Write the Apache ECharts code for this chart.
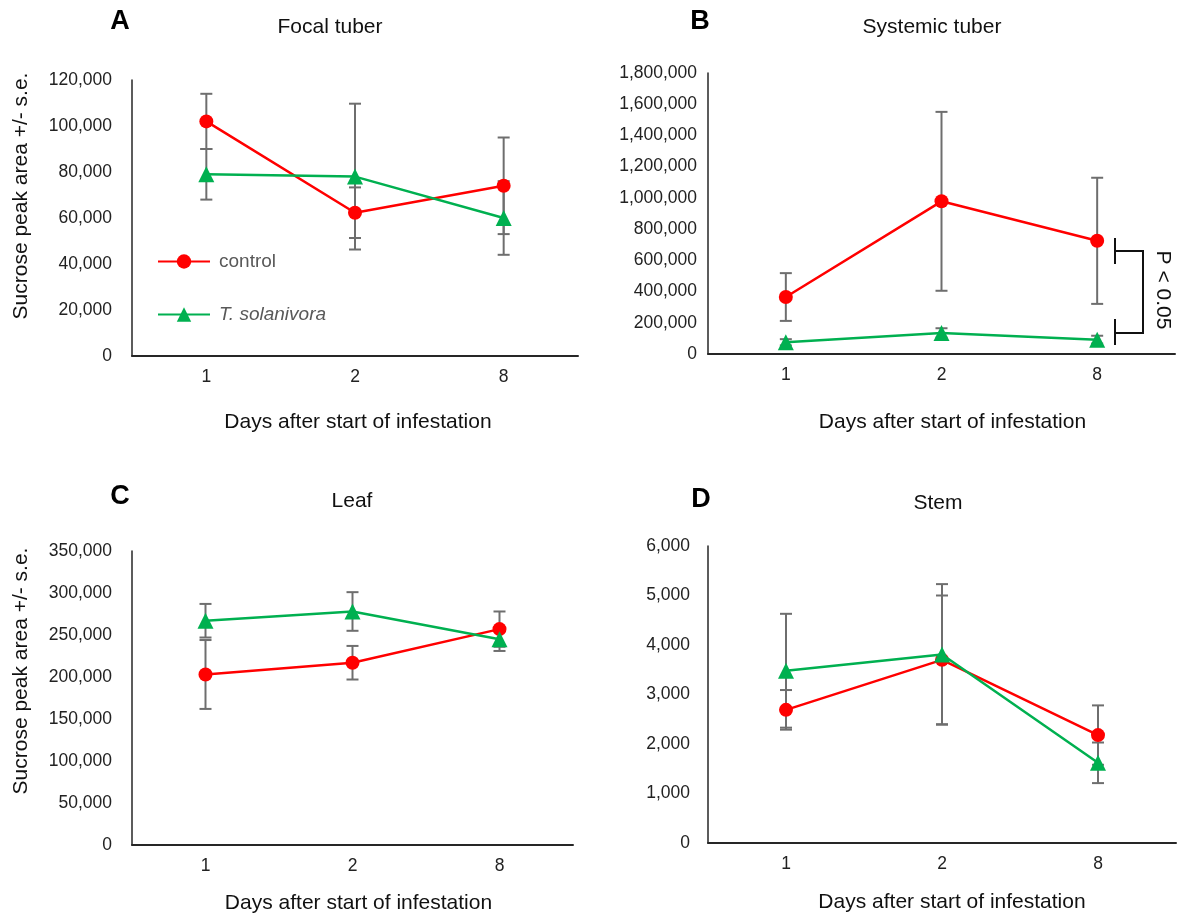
<!DOCTYPE html>
<html>
<head>
<meta charset="utf-8">
<script src="https://cdn.jsdelivr.net/npm/echarts@6/dist/echarts.min.js"></script>
<style>html,body{margin:0;padding:0;background:#fff;}#c{width:1181px;height:920px;}</style>
</head>
<body>
<div id="c"></div>
<script>
// ---- data ----
const days = ['1', '2', '8'];
const seriesNames = ['control', 'T. solanivora'];

const focalControl = [102000, 62300, 74000];
const focalControlErr = [12000, 11000, 21000];
const focalTs = [79000, 78000, 60000];
const focalTsErr = [11000, 31700, 16000];

const sysControl = [365000, 978000, 725000];
const sysControlErr = [153000, 573000, 404000];
const sysTs = [75000, 135000, 92000];
const sysTsErr = [20000, 30000, 25000];

const leafControl = [203000, 217000, 257000];
const leafControlErr = [41000, 20000, 21000];
const leafTs = [267000, 278000, 245000];
const leafTsErr = [20000, 23000, 14000];

const stemControl = [2690, 3700, 2180];
const stemControlErr = [400, 1300, 600];
const stemTs = [3480, 3810, 1620];
const stemTsErr = [1150, 1420, 410];

const yMax = [120000, 1800000, 350000, 6000];
const yStep = [20000, 200000, 50000, 1000];
const panelTitles = ['Focal tuber', 'Systemic tuber', 'Leaf', 'Stem'];
const panelLetters = ['A', 'B', 'C', 'D'];
const xTitle = 'Days after start of infestation';
const yTitle = 'Sucrose peak area +/- s.e.';
const pText = 'P < 0.05';

// ---- layout ----
const FONT = '"Liberation Sans", Arial, sans-serif';
const RED = '#FF0000', GREEN = '#00B050', ERR = '#6E6E6E', AXIS = '#262626';
const grids = [
  {left: 132, top: 80, width: 446, height: 276},
  {left: 708, top: 73, width: 467, height: 281},
  {left: 132, top: 551, width: 441, height: 294},
  {left: 708, top: 546, width: 468, height: 297}
];
const yLabelMargin = [20, 11, 20, 18];
const xNameGap = [56, 58, 48, 49];
const xNamePad = [6, 22, 12, 20];

const panels = [
  [focalControl, focalControlErr, focalTs, focalTsErr],
  [sysControl, sysControlErr, sysTs, sysTsErr],
  [leafControl, leafControlErr, leafTs, leafTsErr],
  [stemControl, stemControlErr, stemTs, stemTsErr]
];

const fmt = v => Number(v).toLocaleString('en-US');

const xAxes = grids.map((g, i) => ({
  type: 'category', gridIndex: i, data: days, boundaryGap: true,
  axisLine: {show: true, lineStyle: {color: AXIS, width: 2}},
  axisTick: {show: false},
  axisLabel: {color: '#222', fontSize: 17.5, fontFamily: FONT, margin: 12},
  name: xTitle, nameLocation: 'middle', nameGap: xNameGap[i],
  nameTextStyle: {color: '#111', fontSize: 21, fontFamily: FONT, padding: [0, 0, 0, xNamePad[i]]}
}));
const yAxes = grids.map((g, i) => ({
  type: 'value', gridIndex: i, min: 0, max: yMax[i], interval: yStep[i],
  axisLine: {show: true, lineStyle: {color: AXIS, width: 1.5}},
  axisTick: {show: false},
  splitLine: {show: false},
  axisLabel: {color: '#222', fontSize: 17.5, fontFamily: FONT, margin: yLabelMargin[i], formatter: fmt}
}));

function errSeries(i, vals, errs, id) {
  return {
    type: 'custom', id: id, xAxisIndex: i, yAxisIndex: i, z: 1,
    silent: true,
    data: vals.map((v, k) => [k, v, errs[k]]),
    encode: {x: 0, y: 1},
    renderItem: function (params, api) {
      const x = api.value(0), v = api.value(1), e = api.value(2);
      const t = api.coord([x, v + e]);
      const b = api.coord([x, v - e]);
      const st = {stroke: ERR, lineWidth: 2};
      return {type: 'group', children: [
        {type: 'line', shape: {x1: t[0], y1: t[1], x2: b[0], y2: b[1]}, style: st},
        {type: 'line', shape: {x1: t[0] - 6, y1: t[1], x2: t[0] + 6, y2: t[1]}, style: st},
        {type: 'line', shape: {x1: b[0] - 6, y1: b[1], x2: b[0] + 6, y2: b[1]}, style: st}
      ]};
    }
  };
}

const series = [];
panels.forEach((p, i) => {
  series.push(errSeries(i, p[0], p[1], 'errC' + i));
  series.push(errSeries(i, p[2], p[3], 'errT' + i));
  series.push({
    type: 'line', name: seriesNames[0], xAxisIndex: i, yAxisIndex: i, data: p[0], z: 3,
    symbol: 'circle', symbolSize: 14, showAllSymbol: true,
    lineStyle: {color: RED, width: 2.5}, itemStyle: {color: RED}, animation: false
  });
  series.push({
    type: 'line', name: seriesNames[1], xAxisIndex: i, yAxisIndex: i, data: p[2], z: 4,
    symbol: 'triangle', symbolSize: 16, showAllSymbol: true,
    lineStyle: {color: GREEN, width: 2.5}, itemStyle: {color: GREEN}, animation: false
  });
});

const titlePos = [[330, 27], [932, 27], [352, 501], [938, 503]];
const letterPos = [[120, 22], [700, 22], [120, 497], [701, 500]];
const graphics = [];
panelTitles.forEach((t, i) => graphics.push({
  type: 'text', x: titlePos[i][0], y: titlePos[i][1],
  style: {text: t, font: '21px ' + FONT, fill: '#111', textAlign: 'center', textVerticalAlign: 'middle'}
}));
panelLetters.forEach((t, i) => graphics.push({
  type: 'text', x: letterPos[i][0], y: letterPos[i][1],
  style: {text: t, font: 'bold 27px ' + FONT, fill: '#000', textAlign: 'center', textVerticalAlign: 'middle'}
}));
[[21, 196], [21, 671]].forEach(pt => graphics.push({
  type: 'text', x: pt[0], y: pt[1], rotation: Math.PI / 2,
  style: {text: yTitle, font: '21px ' + FONT, fill: '#111', textAlign: 'center', textVerticalAlign: 'middle'}
}));
// significance bracket (panel B)
const bk = {stroke: '#111', lineWidth: 2};
graphics.push(
  {type: 'line', shape: {x1: 1143, y1: 251, x2: 1143, y2: 333}, style: bk},
  {type: 'line', shape: {x1: 1115, y1: 251, x2: 1144, y2: 251}, style: bk},
  {type: 'line', shape: {x1: 1115, y1: 333, x2: 1144, y2: 333}, style: bk},
  {type: 'line', shape: {x1: 1115, y1: 238, x2: 1115, y2: 264}, style: bk},
  {type: 'line', shape: {x1: 1115, y1: 319, x2: 1115, y2: 345}, style: bk},
  {type: 'text', x: 1163, y: 290, rotation: -Math.PI / 2,
   style: {text: pText, font: '21px ' + FONT, fill: '#111', textAlign: 'center', textVerticalAlign: 'middle'}}
);

const chart = echarts.init(document.getElementById('c'), null, {renderer: 'canvas'});
chart.setOption({
  animation: false,
  backgroundColor: '#fff',
  grid: grids,
  xAxis: xAxes,
  yAxis: yAxes,
  legend: {
    data: seriesNames, orient: 'vertical', left: 157, top: 252, padding: 0,
    itemWidth: 52, itemHeight: 18, itemGap: 34, selectedMode: false,
    textStyle: {color: '#595959', fontSize: 19, fontFamily: FONT, padding: [0, 0, 0, 4],
      rich: {i: {fontStyle: 'italic', color: '#595959', fontSize: 19, fontFamily: FONT}}},
    formatter: n => n === 'T. solanivora' ? '{i|' + n + '}' : n
  },
  series: series,
  graphic: graphics
});
</script>
</body>
</html>
